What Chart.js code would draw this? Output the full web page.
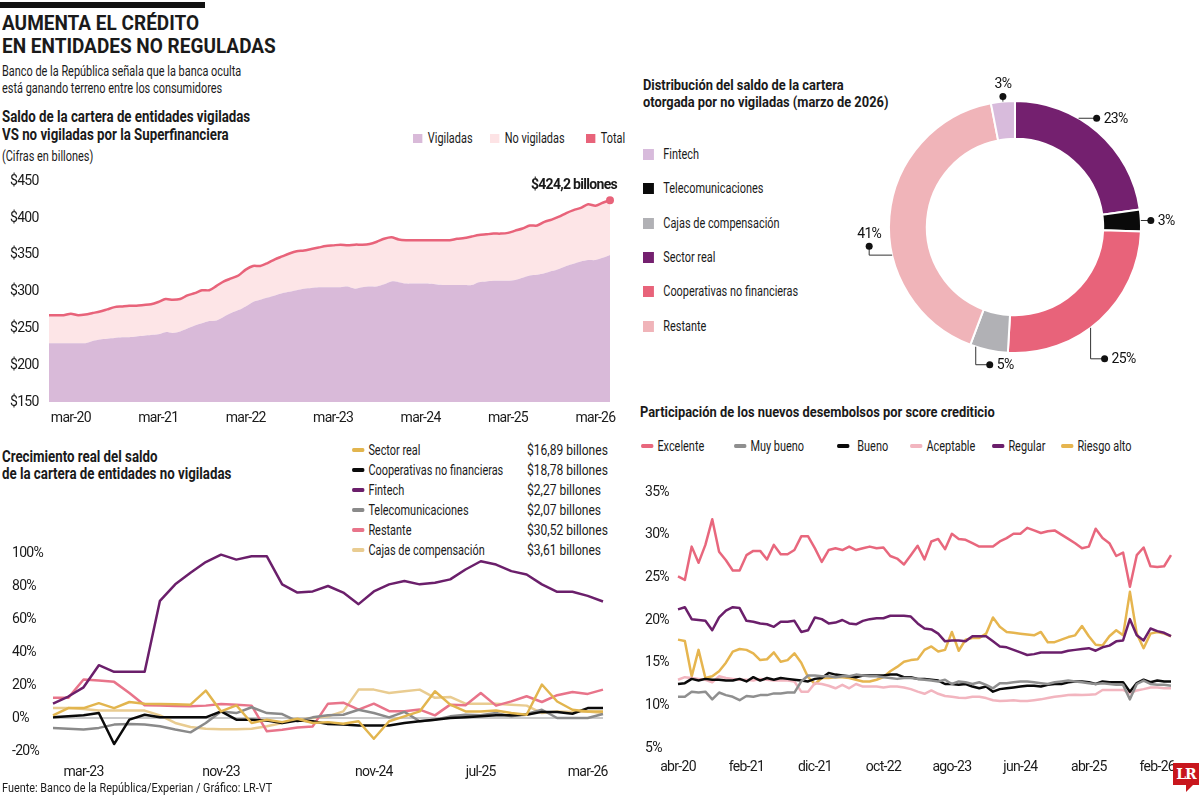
<!DOCTYPE html>
<html lang="es">
<head>
<meta charset="utf-8">
<title>Aumenta el crédito en entidades no reguladas</title>
<script src="https://cdn.jsdelivr.net/npm/chart.js@4.4.1/dist/chart.umd.min.js"></script>
<style>
  html, body { margin: 0; padding: 0; background: #fff; }
  body {
    width: 1200px; height: 797px; position: relative; overflow: hidden;
    font-family: Roboto, 'Liberation Sans', sans-serif;
    color: #1a1a1a;
  }
  .abs { position: absolute; white-space: nowrap; }
  /* la fuente original es condensada: se comprime en horizontal */
  .c { transform: scaleX(0.78); transform-origin: 0 0; }
  .bar { left: 0; top: 2px; width: 205px; height: 6px; background: #111; }
  h1 { margin: 0; left: 2px; top: 12px; font-size: 20px; line-height: 23px; font-weight: 700; transform: scaleX(0.95); transform-origin: 0 0; }
  .sub { left: 2px; top: 63px; font-size: 14px; line-height: 17px; }
  .ttl { font-size: 16px; line-height: 18px; font-weight: 700; transform: scaleX(0.83); transform-origin: 0 0; }
  .note { left: 2px; top: 148px; font-size: 14px; }
  .sq { display: inline-block; width: 12px; height: 9px; margin-right: 7px; vertical-align: middle; position: relative; top: -1px; }
  .leg { font-size: 14px; }
  .val { transform: scaleX(0.86); }
  .mk { display: inline-block; width: 16px; height: 4px; border-radius: 2px; margin-right: 5px; vertical-align: middle; position: relative; top: -1px; }
  canvas { position: absolute; }
  .src { left: 2px; top: 780px; font-size: 12.5px; transform: scaleX(0.87); transform-origin: 0 0; }
  .lr { left: 1173px; top: 763px; width: 26px; height: 22px; background: #c8161d; color: #fff;
        font: bold 14px 'DejaVu Serif', serif; text-align: center; line-height: 22px; letter-spacing: -1px; }
  .lr::after { content: ''; position: absolute; left: 13px; top: 22px; border-top: 7px solid #c8161d; border-right: 7px solid transparent; }
</style>
</head>
<body>
<div class="abs bar"></div>
<h1 class="abs">AUMENTA EL CRÉDITO<br>EN ENTIDADES NO REGULADAS</h1>
<div class="abs sub c">Banco de la República señala que la banca oculta<br>está ganando terreno entre los consumidores</div>
<div class="abs ttl" style="left:2px;top:108px;">Saldo de la cartera de entidades vigiladas<br>VS no vigiladas por la Superfinanciera</div>
<div class="abs note c">(Cifras en billones)</div>
<div class="abs leg c" style="left:413px;top:130px;"><span class="sq" style="background:#d9bad9"></span>Vigiladas</div>
<div class="abs leg c" style="left:490px;top:130px;"><span class="sq" style="background:#fde3e5"></span>No vigiladas</div>
<div class="abs leg c" style="left:586px;top:130px;"><span class="sq" style="background:#e8637a"></span>Total</div>
<canvas id="saldo" width="625" height="260" style="left:0;top:170px;"></canvas>

<div class="abs ttl" style="left:2px;top:448px;line-height:17px;">Crecimiento real del saldo<br>de la cartera de entidades no vigiladas</div>
<div id="legCrec"></div>
<canvas id="crecimiento" width="625" height="245" style="left:0;top:540px;"></canvas>
<div class="abs src">Fuente: Banco de la República/Experian / Gráfico: LR-VT</div>

<div class="abs ttl" style="left:643px;top:77px;font-size:15.5px;line-height:17px;">Distribución del saldo de la cartera<br>otorgada por no vigiladas (marzo de 2026)</div>
<div id="legDist"></div>
<canvas id="distribucion" width="360" height="330" style="left:840px;top:60px;"></canvas>

<div class="abs ttl" style="left:640px;top:403px;font-size:15.5px;">Participación de los nuevos desembolsos por score crediticio</div>
<div id="legScore"></div>
<canvas id="score" width="570" height="300" style="left:630px;top:480px;"></canvas>
<div class="abs lr">LR</div>

<script>
"use strict";

/* ---------- datos ---------- */
const MESES = ['ene', 'feb', 'mar', 'abr', 'may', 'jun', 'jul', 'ago', 'sep', 'oct', 'nov', 'dic'];

// saldo de la cartera (billones), mensual desde dic-19
const saldoVigiladas = [
    230, 230, 230, 230, 230, 230, 233, 235, 236, 237,
    238, 238, 239, 240, 241, 242, 245, 244, 246, 250,
    254, 257, 260, 261, 266, 271, 275, 280, 286, 289,
    292, 295, 298, 300, 302, 304, 305, 306, 306, 306,
    306, 307, 304, 306, 307, 307, 310, 314, 313, 311,
    311, 311, 311, 310, 309, 309, 309, 309, 309, 313,
    314, 315, 315, 315, 316, 319, 322, 323, 325, 328,
    331, 335, 338, 341, 343, 343, 346, 350
];
const saldoTotal = [
    268, 268, 268, 270, 268, 269, 271, 273, 276, 279,
    280, 281, 281, 282, 283, 286, 290, 289, 290, 295,
    298, 302, 302, 308, 314, 318, 322, 330, 335, 335,
    339, 344, 348, 352, 355, 356, 358, 360, 362, 363,
    364, 363, 364, 364, 365, 368, 372, 374, 371, 370,
    370, 370, 370, 370, 370, 370, 372, 373, 375, 377,
    378, 379, 379, 380, 383, 386, 390, 390, 395, 398,
    402, 407, 411, 414, 419, 417, 421, 424.2
];

// crecimiento real (%), 37 cortes
const crecEtiquetas = ['', '', 'mar-23', '', '', '', '', '', '', '', '', 'nov-23', '', '', '', '', '', '', '',
    '', '', 'nov-24', '', '', '', '', '', '', 'jul-25', '', '', '', '', '', '', 'mar-26', ''];
const crecSectorReal = [1.6, 6, 6, 9, 6, 9.7, 8.7, 8.5, 8.3, 8.1, 16.6, 4, 7.7, -3, -1, -2.5, -0.5, -3, -2.5,
    -3.5, -2, -12.6, -2, 1, 4, 16.2, 8.1, 4, 4, 4.5, 3, 2, 20.3, 10, 5, 4, 4];
const crecCooperativas = [0.4, 1, 1.6, 3, -15.8, -1, 2, 0.4, 0.4, 0.4, 0.4, 4, -1, -1, -1.5, -3, -1.5, -2, -3.7,
    -4, -4.5, -4.5, -4.5, -3, -2, -1, 0, 0.4, 1, 1.6, 1.6, 2, 3.7, 3.7, 2.6, 6, 6];
const crecFintech = [8.7, 13, 18.6, 32, 28, 28, 28, 71, 81, 88, 94.5, 99, 96, 98, 98, 81, 76, 76.7, 80,
    76, 69, 76.7, 81, 83, 81, 82, 84, 90, 95, 93, 89, 87, 81, 76.5, 76.5, 74, 70.6];
const crecTelecom = [-6, -6.5, -7, -6, -4, -3.7, -4, -5, -7, -8.7, -3, 4, 3, 6.5, 3, 2.4, -2, 0.4, 1.6,
    2, 5, 3, 0.4, 3.7, -2, -1, 1, 2, 1.6, 3, 1, 2.4, 5, 0, 0, 0, 2.4];
const crecRestante = [12.2, 12.2, 23.3, 22.7, 21.9, 15.2, 7.7, 7.5, 7.3, 7.1, 7.5, 8.5, 8.1, 7.5, -8.1, -7.1,
    -5.7, -5.1, 8.7, 9.3, 5.1, 8.7, 4.1, 4.1, 5.1, 1.6, 8.1, 7.7, 15.2, 7.5, 10.1, 13.2, 9.7, 13.8, 15.8, 14.6, 17.2];
const crecCajas = [6, 6, 5.5, 4.5, 4.5, 4.5, 4.5, 1.6, -3, -5.5, -6.5, -6.8, -6.8, -6.5, -5, -3, -1, 0, 1,
    4, 17.2, 17.2, 15.2, 16.2, 17.2, 12.2, 12.8, 8.7, 8.7, 8.7, 8.1, 7.5, 3, 4, 3.6, 4, 3];
const crecSaldos = ['$16,89 billones', '$18,78 billones', '$2,27 billones', '$2,07 billones', '$30,52 billones', '$3,61 billones'];

// distribución (billones, marzo de 2026), en el orden del anillo
const distNombres = ['Sector real', 'Telecomunicaciones', 'Cooperativas no financieras', 'Cajas de compensación', 'Restante', 'Fintech'];
const distValores = [16.89, 2.07, 18.78, 3.61, 30.52, 2.27];
const distLeyenda = ['Fintech', 'Telecomunicaciones', 'Cajas de compensación', 'Sector real', 'Cooperativas no financieras', 'Restante'];

// participación por score (%), mensual desde abr-20
const scoreTicks = ['abr-20', 'feb-21', 'dic-21', 'oct-22', 'ago-23', 'jun-24', 'abr-25', 'feb-26'];
const scoreExcelente = [
    25.1, 24.7, 28.6, 26.7, 28.8, 31.8, 28.0, 27.0, 25.8, 25.8,
    27.6, 28.1, 28.1, 27.1, 28.8, 27.7, 27.7, 28.2, 29.8, 29.8,
    28.4, 26.8, 28.2, 28.4, 28.2, 28.6, 28.2, 28.4, 28.6, 28.4,
    28.5, 27.5, 27.2, 26.5, 27.6, 28.7, 27.1, 29.2, 29.5, 28.3,
    30.1, 29.5, 29.4, 29.0, 28.6, 28.6, 28.6, 29.2, 29.6, 30.1,
    30.1, 30.8, 30.5, 30.2, 30.4, 30.5, 30.0, 29.5, 29.0, 28.4,
    28.6, 30.7, 29.6, 29.0, 27.5, 27.9, 23.9, 27.6, 28.5, 26.3,
    26.2, 26.3, 27.6
];
const scoreMuyBueno = [
    11.0, 11.0, 11.6, 11.5, 11.6, 10.7, 11.5, 11.2, 11.0, 10.6,
    11.1, 11.0, 11.2, 11.2, 11.4, 11.4, 11.5, 11.5, 12.8, 13.5,
    13.5, 13.4, 13.4, 13.3, 13.4, 13.4, 13.6, 13.5, 13.4, 13.4,
    13.3, 13.2, 13.1, 13.2, 13.2, 13.1, 13.0, 12.9, 12.8, 13.0,
    12.5, 12.8, 12.7, 12.5, 12.7, 12.4, 12.0, 12.6, 12.6, 12.7,
    12.8, 12.8, 12.7, 12.6, 12.5, 12.7, 12.8, 12.9, 12.8, 12.7,
    12.6, 12.5, 12.6, 12.5, 12.4, 12.4, 10.7, 12.5, 12.9, 12.5,
    12.4, 12.4, 12.3
];
const scoreBueno = [
    12.5, 12.6, 13.1, 12.9, 13.1, 13.0, 13.0, 12.9, 12.9, 13.1,
    12.8, 13.3, 12.9, 13.2, 13.0, 13.2, 13.1, 13.0, 12.9, 12.8,
    13.1, 13.2, 13.8, 13.6, 13.5, 13.4, 13.3, 13.5, 13.5, 13.5,
    13.5, 13.6, 13.6, 13.3, 13.3, 13.1, 13.1, 13.0, 12.9, 12.5,
    12.5, 12.4, 12.5, 12.2, 12.0, 12.2, 11.6, 11.9, 12.0, 12.1,
    12.2, 12.3, 12.3, 12.2, 12.4, 12.5, 12.5, 12.7, 12.8, 12.8,
    12.7, 12.5, 12.8, 12.7, 12.7, 12.7, 11.6, 12.6, 13.0, 12.7,
    12.9, 12.8, 12.8
];
const scoreAceptable = [
    13.0, 13.3, 13.2, 13.1, 13.0, 12.7, 13.4, 13.2, 13.1, 13.0,
    13.0, 12.9, 13.1, 13.0, 12.9, 12.9, 12.9, 12.8, 11.6, 11.6,
    12.6, 12.5, 12.3, 12.0, 12.4, 12.0, 12.5, 12.2, 12.2, 12.2,
    12.1, 12.2, 12.2, 12.1, 11.9, 11.6, 11.35, 11.75, 11.35, 11.1,
    11.0, 10.9, 10.85, 11.0, 11.0, 10.85, 10.6, 10.5, 10.55, 10.6,
    10.5, 10.5, 10.6, 10.7, 10.85, 11.0, 11.1, 11.2, 11.25, 11.2,
    11.25, 11.3, 11.8, 11.8, 11.8, 11.8, 11.4, 11.75, 11.9, 12.1,
    12.1, 12.0, 12.0
];
const scoreRegular = [
    21.25, 21.5, 20.1, 20.0, 19.9, 18.8, 20.3, 21.1, 21.5, 21.4,
    19.9, 19.8, 19.6, 19.5, 19.2, 19.8, 19.8, 19.9, 18.6, 18.8,
    20.3, 20.1, 19.6, 19.7, 20.0, 19.6, 19.5, 19.9, 20.1, 20.2,
    20.2, 20.5, 20.5, 20.5, 20.4, 19.6, 19.0, 18.9, 18.4, 17.5,
    17.6, 17.6, 17.5, 18.1, 18.1, 18.1, 17.5, 16.9, 16.8, 16.5,
    16.2, 15.9, 16.0, 16.2, 16.2, 16.2, 16.2, 16.4, 16.5, 16.6,
    16.7, 16.4, 16.8, 17.0, 17.5, 17.6, 20.1, 18.2, 17.6, 19.0,
    18.7, 18.5, 18.1
];
const scoreRiesgoAlto = [
    17.7, 17.55, 13.4, 16.5, 13.2, 13.4, 14.0, 15.0, 16.3, 16.6,
    16.5, 16.1, 15.3, 15.4, 16.2, 15.1, 15.3, 16.1, 15.0, 13.3,
    12.5, 13.2, 13.2, 13.3, 13.3, 13.2, 13.0, 12.8, 12.8, 13.0,
    13.3, 14.0, 14.5, 15.1, 15.3, 15.4, 16.5, 16.9, 16.3, 16.5,
    18.6, 16.4, 17.7, 17.9, 17.9, 18.4, 20.3, 19.2, 18.6, 18.5,
    18.4, 18.3, 18.2, 18.6, 17.4, 17.4, 17.7, 18.0, 18.2, 19.3,
    18.1, 17.1, 17.0, 18.1, 18.8, 18.2, 23.3, 18.4, 16.7, 18.4,
    18.6, 18.4, 18.1
];

/* ---------- utilidades ---------- */
function meses(mes0, anio0, n) {
    const out = [];
    for (let k = 0; k < n; k++) {
        const m = (mes0 + k) % 12;
        const a = anio0 + Math.floor((mes0 + k) / 12);
        out.push(MESES[m] + '-' + String(a).padStart(2, '0'));
    }
    return out;
}

const FONT = "Roboto, 'Liberation Sans', sans-serif";
Chart.defaults.font.family = FONT;
Chart.defaults.font.size = 14;
Chart.defaults.color = '#1a1a1a';
Chart.defaults.animation = false;
Chart.defaults.responsive = false;
Chart.defaults.plugins.legend.display = false;
Chart.defaults.plugins.tooltip.enabled = false;

/* texto más estrecho en los lienzos */
Chart.register({
    id: 'estrecho',
    beforeLayout(chart) { chart.ctx.letterSpacing = '-0.7px'; },
    beforeDraw(chart) { chart.ctx.letterSpacing = '-0.7px'; }
});

function legendHTML(el, items, html) {
    el.innerHTML = items.map(html).join('');
}

/* ---------- saldo vigiladas vs no vigiladas ---------- */
const saldoFechas = meses(11, 19, saldoTotal.length);

const etiquetaFinal = {
    id: 'etiquetaFinal',
    afterDatasetsDraw(chart) {
        const meta = chart.getDatasetMeta(1);
        const last = meta.data[meta.data.length - 1];
        const ctx = chart.ctx;
        const v = saldoTotal[saldoTotal.length - 1];
        ctx.save();
        ctx.font = 'bold 14px ' + FONT;
        ctx.fillStyle = '#1a1a1a';
        ctx.textAlign = 'right';
        ctx.textBaseline = 'alphabetic';
        ctx.fillText('$' + String(v).replace('.', ',') + ' billones', last.x + 7, last.y - 11);
        ctx.restore();
    }
};

new Chart(document.getElementById('saldo'), {
    type: 'line',
    data: {
        labels: saldoFechas,
        datasets: [{
            label: 'Vigiladas',
            data: saldoVigiladas,
            fill: 'origin',
            backgroundColor: '#d9bad9',
            borderWidth: 0,
            pointRadius: 0,
            tension: 0.25
        }, {
            label: 'Total',
            data: saldoTotal,
            fill: '-1',
            backgroundColor: '#fde5e7',
            borderColor: '#e8637a',
            borderWidth: 2.5,
            tension: 0.25,
            pointRadius: (c) => c.dataIndex === saldoTotal.length - 1 ? 4 : 0,
            pointBackgroundColor: '#e8637a',
            pointBorderWidth: 0
        }]
    },
    options: {
        layout: { padding: { left: 10, right: 15, top: 11, bottom: 0 } },
        scales: {
            x: {
                grid: { display: false },
                border: { display: false },
                afterFit(s) { s.height = 28; },
                ticks: {
                    autoSkip: false, maxRotation: 0, padding: 0,
                    callback(v) {
                        const l = this.getLabelForValue(v);
                        return l.startsWith('mar') ? l : '';
                    }
                }
            },
            y: {
                min: 150, max: 450,
                grid: { display: false },
                border: { display: false },
                afterFit(s) { s.width = 39; },
                ticks: { stepSize: 50, crossAlign: 'far', callback: (v) => '$' + v }
            }
        }
    },
    plugins: [etiquetaFinal]
});

/* ---------- crecimiento real ---------- */
const crecSeries = [
    { nombre: 'Sector real', data: crecSectorReal, color: '#e2b54e' },
    { nombre: 'Cooperativas no financieras', data: crecCooperativas, color: '#0a0a0a' },
    { nombre: 'Fintech', data: crecFintech, color: '#6b1f6b' },
    { nombre: 'Telecomunicaciones', data: crecTelecom, color: '#8a8a8a' },
    { nombre: 'Restante', data: crecRestante, color: '#e8748a' },
    { nombre: 'Cajas de compensación', data: crecCajas, color: '#e9cc91' }
];

legendHTML(document.getElementById('legCrec'), crecSeries, (s, i) =>
    '<div class="abs leg c" style="left:352px;top:' + (442 + i * 20) + 'px;">' +
    '<span class="mk" style="background:' + s.color + '"></span>' + s.nombre + '</div>' +
    '<div class="abs leg c val" style="left:527px;top:' + (442 + i * 20) + 'px;">' + crecSaldos[i] + '</div>');

new Chart(document.getElementById('crecimiento'), {
    type: 'line',
    data: {
        labels: crecEtiquetas,
        datasets: crecSeries.map((s) => ({
            label: s.nombre,
            data: s.data,
            borderColor: s.color,
            borderWidth: 2.5,
            pointRadius: 0,
            tension: 0,
            fill: false,
            borderJoinStyle: 'round'
        }))
    },
    options: {
        layout: { padding: { left: 12, right: 22, top: 13, bottom: 0 } },
        scales: {
            x: {
                grid: { display: false },
                border: { display: false },
                afterFit(s) { s.height = 34; },
                ticks: { autoSkip: false, maxRotation: 0, padding: 5 }
            },
            y: {
                min: -20, max: 100,
                border: { display: false },
                grid: {
                    drawTicks: false,
                    lineWidth: 2,
                    color: (c) => c.tick && c.tick.value === 0 ? '#c9c9c9' : 'rgba(0,0,0,0)'
                },
                afterFit(s) { s.width = 41; },
                ticks: { stepSize: 20, crossAlign: 'far', padding: 0, callback: (v) => v + '%' }
            }
        }
    }
});

/* ---------- distribución (dona) ---------- */
const distColores = {
    'Sector real': '#74206f',
    'Telecomunicaciones': '#0a0a0a',
    'Cooperativas no financieras': '#e8637a',
    'Cajas de compensación': '#b1b1b5',
    'Restante': '#f0b4b9',
    'Fintech': '#d8bbdc'
};
// posición de la línea guía dentro de cada arco y su recorrido
const distGuias = [
    { at: 0.37, path: [[18, 0]], text: 'right' },
    { at: 0.5, path: [[10, 0]], text: 'right' },
    { at: 0.56, path: [[0, 31], [14, 0]], text: 'right' },
    { at: 0.85, path: [[0, 18], [14, 0]], text: 'right' },
    { at: 0.38, path: [[-23, 0], [0, -9]], text: 'above' },
    { at: 0.5, path: [[0, -5]], text: 'above' }
];

legendHTML(document.getElementById('legDist'), distLeyenda, (n, i) =>
    '<div class="abs leg c" style="left:643px;top:' + Math.round(146 + i * 34.3) + 'px;">' +
    '<span class="sq" style="width:14px;height:11px;margin-right:12px;background:' + distColores[n] + '"></span>' + n + '</div>');

const guias = {
    id: 'guias',
    afterDatasetsDraw(chart) {
        const ctx = chart.ctx;
        const meta = chart.getDatasetMeta(0);
        const suma = distValores.reduce((a, b) => a + b, 0);
        ctx.save();
        ctx.strokeStyle = '#333';
        ctx.fillStyle = '#111';
        ctx.lineWidth = 1;
        ctx.font = '14px ' + FONT;
        meta.data.forEach((arc, i) => {
            const g = distGuias[i];
            const a = arc.startAngle + g.at * (arc.endAngle - arc.startAngle);
            let x = arc.x + Math.cos(a) * arc.outerRadius;
            let y = arc.y + Math.sin(a) * arc.outerRadius;
            ctx.beginPath();
            ctx.moveTo(x, y);
            g.path.forEach(([dx, dy]) => { x += dx; y += dy; ctx.lineTo(x, y); });
            ctx.stroke();
            ctx.beginPath();
            ctx.arc(x, y, 3.5, 0, Math.PI * 2);
            ctx.fill();
            const txt = Math.round(distValores[i] / suma * 100) + '%';
            if (g.text === 'right') {
                ctx.textAlign = 'left';
                ctx.textBaseline = 'middle';
                ctx.fillText(txt, x + 7, y + 1);
            } else {
                ctx.textAlign = 'center';
                ctx.textBaseline = 'bottom';
                ctx.fillText(txt, x, y - 5);
            }
        });
        ctx.restore();
    }
};

new Chart(document.getElementById('distribucion'), {
    type: 'doughnut',
    data: {
        labels: distNombres,
        datasets: [{
            data: distValores,
            backgroundColor: distNombres.map((n) => distColores[n]),
            borderColor: '#fff',
            borderWidth: 2
        }]
    },
    options: {
        cutout: '70%',
        layout: { padding: { left: 48, right: 58, top: 40, bottom: 36 } }
    },
    plugins: [guias]
});

/* ---------- participación por score ---------- */
const scoreSeries = [
    { nombre: 'Excelente', data: scoreExcelente, color: '#e8677d', left: 641 },
    { nombre: 'Muy bueno', data: scoreMuyBueno, color: '#8f8f8f', left: 734 },
    { nombre: 'Bueno', data: scoreBueno, color: '#0a0a0a', left: 837 },
    { nombre: 'Aceptable', data: scoreAceptable, color: '#f2b5bf', left: 910 },
    { nombre: 'Regular', data: scoreRegular, color: '#6b1f6b', left: 992 },
    { nombre: 'Riesgo alto', data: scoreRiesgoAlto, color: '#e6b54f', left: 1061 }
];

legendHTML(document.getElementById('legScore'), scoreSeries, (s) =>
    '<div class="abs leg c" style="left:' + s.left + 'px;top:438px;">' +
    '<span class="mk" style="background:' + s.color + ';margin-right:' + (s.nombre === 'Bueno' ? 10 : 5) + 'px"></span>' + s.nombre + '</div>');

new Chart(document.getElementById('score'), {
    type: 'line',
    data: {
        labels: meses(3, 20, scoreExcelente.length),
        datasets: scoreSeries.map((s) => ({
            label: s.nombre,
            data: s.data,
            borderColor: s.color,
            borderWidth: 2.5,
            pointRadius: 0,
            tension: 0,
            fill: false,
            borderJoinStyle: 'round'
        }))
    },
    options: {
        layout: { padding: { left: 15, right: 29, top: 12, bottom: 0 } },
        scales: {
            x: {
                grid: { display: false },
                border: { display: false },
                afterFit(s) { s.height = 32; },
                ticks: {
                    autoSkip: false, maxRotation: 0, padding: 3,
                    callback(v) {
                        const l = this.getLabelForValue(v);
                        return scoreTicks.includes(l) ? l : '';
                    }
                }
            },
            y: {
                min: 5, max: 35,
                grid: { display: false },
                border: { display: false },
                afterFit(s) { s.width = 33; },
                ticks: { stepSize: 5, crossAlign: 'far', callback: (v) => v + '%' }
            }
        }
    }
});
</script>
</body>
</html>
